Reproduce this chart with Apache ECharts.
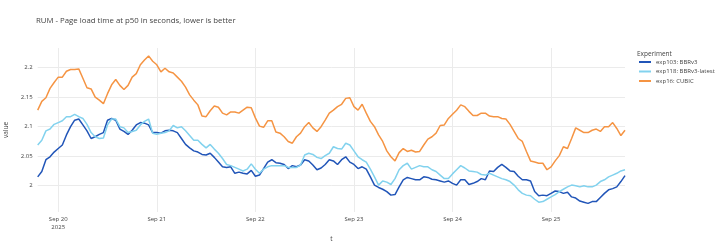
<!DOCTYPE html>
<html>
<head>
<meta charset="utf-8">
<script src="https://cdn.jsdelivr.net/npm/echarts@6/dist/echarts.min.js"></script>
<style>
  html, body { margin: 0; padding: 0; background: #fff; }
  #chartMain { width: 715px; height: 250px; }
</style>
</head>
<body>
<div id="chartMain"></div>
<script>
// hourly samples, first one at Sep 19 2025 19:00 UTC
var startTime = Date.UTC(2025, 8, 19, 19, 0, 0);
var stepMs = 3600 * 1000;

var seriesNames = ['exp103: BBRv3', 'exp118: BBRv3-latest', 'exp16: CUBIC'];
var seriesColors = ['#2155b8', '#82d2ee', '#f59443'];

var bbrv3 = [
  2.015, 2.024, 2.044, 2.049, 2.057, 2.063, 2.069, 2.086, 2.100, 2.111, 2.113, 2.103, 2.093, 2.080, 2.083,
  2.087, 2.090, 2.111, 2.114, 2.111, 2.096, 2.092, 2.087, 2.094, 2.103, 2.107, 2.106, 2.103, 2.090, 2.090,
  2.089, 2.093, 2.094, 2.093, 2.090, 2.080, 2.070, 2.064, 2.059, 2.057, 2.053, 2.052, 2.055, 2.048, 2.040,
  2.032, 2.031, 2.032, 2.021, 2.023, 2.021, 2.020, 2.026, 2.016, 2.018, 2.029, 2.040, 2.044, 2.039, 2.038,
  2.036, 2.029, 2.034, 2.032, 2.035, 2.044, 2.042, 2.035, 2.027, 2.030, 2.036, 2.044, 2.042, 2.036, 2.044,
  2.049, 2.040, 2.036, 2.029, 2.032, 2.028, 2.015, 2.001, 1.997, 1.994, 1.990, 1.984, 1.985, 1.998,
  2.010, 2.014, 2.012, 2.010, 2.010, 2.015, 2.014, 2.011, 2.010, 2.008, 2.006, 2.008, 2.004, 2.001,
  2.010, 2.010, 2.002, 2.004, 2.007, 2.012, 2.010, 2.025, 2.024, 2.031, 2.036, 2.031, 2.025, 2.024,
  2.016, 2.010, 2.010, 2.008, 1.990, 1.983, 1.984, 1.983, 1.987, 1.991, 1.990, 1.987, 1.989, 1.981,
  1.979, 1.974, 1.972, 1.970, 1.973, 1.973, 1.980, 1.987, 1.993, 1.995, 1.998, 2.007, 2.017
];

var bbrv3Latest = [
  2.069, 2.077, 2.093, 2.096, 2.104, 2.107, 2.110, 2.117, 2.117, 2.121, 2.117, 2.114, 2.104, 2.090, 2.083,
  2.080, 2.081, 2.103, 2.113, 2.113, 2.100, 2.098, 2.090, 2.092, 2.094, 2.103, 2.109, 2.113, 2.089, 2.087,
  2.089, 2.090, 2.093, 2.102, 2.098, 2.100, 2.093, 2.085, 2.077, 2.077, 2.070, 2.064, 2.070, 2.062, 2.055,
  2.046, 2.036, 2.034, 2.031, 2.028, 2.025, 2.028, 2.037, 2.028, 2.021, 2.028, 2.032, 2.034, 2.034, 2.034,
  2.034, 2.031, 2.031, 2.031, 2.035, 2.052, 2.055, 2.053, 2.048, 2.046, 2.051, 2.055, 2.066, 2.063, 2.062,
  2.072, 2.069, 2.059, 2.049, 2.044, 2.040, 2.028, 2.015, 2.001, 2.008, 2.006, 2.002, 2.012, 2.027,
  2.034, 2.038, 2.028, 2.031, 2.034, 2.032, 2.032, 2.027, 2.024, 2.018, 2.012, 2.012, 2.020, 2.027,
  2.034, 2.030, 2.025, 2.024, 2.023, 2.019, 2.018, 2.021, 2.018, 2.015, 2.012, 2.010, 2.007, 2.001,
  1.993, 1.987, 1.984, 1.983, 1.977, 1.972, 1.973, 1.977, 1.981, 1.985, 1.990, 1.994, 1.998, 2.001,
  2.000, 1.998, 2.000, 1.998, 1.998, 2.001, 2.007, 2.010, 2.015, 2.018, 2.021, 2.025, 2.027
];

var cubic = [
  2.128, 2.143, 2.149, 2.165, 2.175, 2.184, 2.184, 2.194, 2.197, 2.197, 2.198, 2.182, 2.166, 2.164, 2.150,
  2.145, 2.139, 2.156, 2.171, 2.180, 2.170, 2.163, 2.170, 2.184, 2.190, 2.205, 2.213, 2.220, 2.211, 2.205,
  2.193, 2.199, 2.193, 2.191, 2.184, 2.177, 2.167, 2.154, 2.145, 2.137, 2.118, 2.117, 2.127, 2.135, 2.133,
  2.123, 2.120, 2.125, 2.125, 2.123, 2.128, 2.133, 2.132, 2.115, 2.101, 2.099, 2.110, 2.110, 2.091, 2.089,
  2.083, 2.075, 2.072, 2.083, 2.089, 2.100, 2.107, 2.098, 2.092, 2.100, 2.111, 2.123, 2.128, 2.134, 2.138,
  2.148, 2.149, 2.134, 2.128, 2.138, 2.123, 2.109, 2.100, 2.086, 2.075, 2.059, 2.049, 2.042, 2.056,
  2.063, 2.058, 2.060, 2.057, 2.058, 2.069, 2.079, 2.083, 2.089, 2.102, 2.103, 2.114, 2.121, 2.128,
  2.137, 2.134, 2.126, 2.119, 2.119, 2.123, 2.123, 2.118, 2.117, 2.117, 2.114, 2.113, 2.104, 2.092,
  2.080, 2.075, 2.058, 2.042, 2.040, 2.038, 2.038, 2.027, 2.032, 2.042, 2.051, 2.066, 2.063, 2.080,
  2.098, 2.094, 2.090, 2.090, 2.094, 2.096, 2.092, 2.100, 2.100, 2.107, 2.097, 2.085, 2.094
];

var yMin = 1.9554;
var yMax = 2.2334;

function toPairs(values) {
  var arr = [];
  for (var i = 0; i < values.length; i++) {
    arr.push([startTime + i * stepMs, values[i]]);
  }
  return arr;
}

var monthNames = ['Jan', 'Feb', 'Mar', 'Apr', 'May', 'Jun', 'Jul', 'Aug', 'Sep', 'Oct', 'Nov', 'Dec'];

var myChart = echarts.init(document.getElementById('chartMain'), null, { renderer: 'canvas' });
var fontFamily = '"Open Sans", Verdana, Arial, sans-serif';
var allSeries = [bbrv3, bbrv3Latest, cubic];

var option = {
  useUTC: true,
  animation: false,
  textStyle: { fontFamily: fontFamily },
  title: [{
    text: 'RUM - Page load time at p50 in seconds, lower is better',
    left: 36,
    top: 17,
    padding: 0,
    textStyle: { fontSize: 7.8, fontWeight: 'normal', color: '#444', fontFamily: fontFamily }
  }, {
    text: 'Experiment',
    left: 637,
    top: 50.5,
    padding: 0,
    textStyle: { fontSize: 6.5, fontWeight: 'normal', color: '#444', fontFamily: fontFamily }
  }],
  legend: {
    orient: 'vertical',
    left: 639,
    top: 59,
    padding: 0,
    itemGap: 3.5,
    itemWidth: 12,
    itemHeight: 2,
    icon: 'rect',
    data: seriesNames,
    textStyle: { fontSize: 6, color: '#444', fontFamily: fontFamily }
  },
  grid: {
    left: 37.7,
    right: 90,
    top: 48,
    bottom: 38,
    containLabel: false,
    outerBoundsMode: 'none'
  },
  xAxis: {
    type: 'time',
    min: startTime,
    max: startTime + (cubic.length - 1) * stepMs,
    name: 't',
    nameLocation: 'middle',
    nameGap: 20,
    nameTextStyle: { fontSize: 6.5, color: '#444' },
    axisLine: { show: false },
    axisTick: { show: false },
    splitLine: { show: true, showMinLine: false, showMaxLine: false, lineStyle: { color: '#ebebeb', width: 1 } },
    axisLabel: {
      fontSize: 6,
      color: '#444',
      lineHeight: 7.5,
      margin: 4,
      showMinLabel: false,
      showMaxLabel: false,
      formatter: function(val) {
        var d = new Date(val);
        var s = monthNames[d.getUTCMonth()] + ' ' + d.getUTCDate();
        if (d.getUTCDate() === 20) {
          s += '\n' + d.getUTCFullYear();
        }
        return s;
      }
    }
  },
  yAxis: {
    type: 'value',
    min: yMin,
    max: yMax,
    splitNumber: 5,
    name: 'value',
    nameLocation: 'middle',
    nameGap: 22,
    nameTextStyle: { fontSize: 6.5, color: '#444' },
    axisLine: { show: false },
    axisTick: { show: false },
    splitLine: { show: true, showMinLine: false, showMaxLine: false, lineStyle: { color: '#ebebeb', width: 1 } },
    axisLabel: {
      fontSize: 6,
      color: '#444',
      margin: 5,
      showMinLabel: false,
      showMaxLabel: false
    }
  },
  series: (function() {
    var arr = [];
    for (var i = 0; i < allSeries.length; i++) {
      arr.push({
        name: seriesNames[i],
        type: 'line',
        showSymbol: false,
        symbol: 'none',
        color: seriesColors[i],
        lineStyle: { width: 1.5, color: seriesColors[i] },
        data: toPairs(allSeries[i])
      });
    }
    return arr;
  })()
};

myChart.setOption(option, true);
</script>
</body>
</html>
